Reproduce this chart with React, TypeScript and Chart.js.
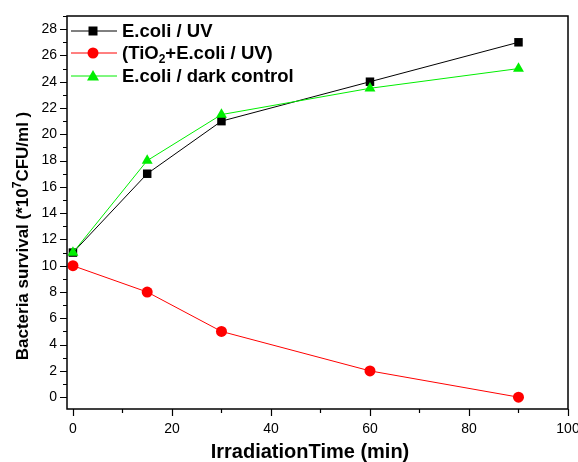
import React, { useEffect, useRef } from 'react';
import { Chart, registerables } from 'chart.js';
Chart.register(...registerables);

const times = [0, 15, 30, 60, 90];
const ecoliUV = [11, 17, 21, 24, 27];
const tio2UV = [10, 8, 5, 2, 0];
const darkControl = [11, 18, 21.5, 23.5, 25];
const xTickValues = [0, 10, 20, 30, 40, 50, 60, 70, 80, 90, 100];
const yTickValues = Array.from({ length: 30 }, (_, i) => i - 0);
const xTitle = 'IrradiationTime (min)';
const legendLabels = ['E.coli / UV', '(TiO|2|+E.coli / UV)', 'E.coli / dark control'];

const FONT = '"Liberation Sans", Arial, Helvetica, sans-serif';

type Seg = { t: string; dy: number; size: number };

function drawSegs(ctx: CanvasRenderingContext2D, segs: Seg[], x: number, y: number, align: 'left' | 'center') {
  const widths = segs.map((s) => {
    ctx.font = `bold ${s.size}px ${FONT}`;
    return ctx.measureText(s.t).width;
  });
  const total = widths.reduce((a, b) => a + b, 0);
  let cx = align === 'center' ? x - total / 2 : x;
  segs.forEach((s, i) => {
    ctx.font = `bold ${s.size}px ${FONT}`;
    ctx.fillText(s.t, cx, y + s.dy);
    cx += widths[i];
  });
}

const framePlugin = {
  id: 'frame',
  afterDraw(chart: any) {
    const { ctx, chartArea } = chart;
    const { left, right, top, bottom } = chartArea;
    const xs = chart.scales.x;
    const ys = chart.scales.y;
    ctx.save();
    ctx.strokeStyle = '#000';
    ctx.lineWidth = 1.5;
    ctx.strokeRect(left, top, right - left, bottom - top);
    ctx.lineWidth = 1.2;
    ctx.beginPath();
    xTickValues.forEach((v) => {
      const px = Math.round(xs.getPixelForValue(v)) + 0.5;
      const len = v % 20 === 0 ? 7 : 4;
      ctx.moveTo(px, bottom);
      ctx.lineTo(px, bottom + len);
    });
    yTickValues.forEach((v) => {
      const py = Math.round(ys.getPixelForValue(v)) + 0.5;
      const len = v % 2 === 0 ? 7 : 4;
      ctx.moveTo(left, py);
      ctx.lineTo(left - len, py);
    });
    ctx.stroke();

    // legend
    const colors = ['#000000', '#ff0000', '#00ee00'];
    const styles = ['rect', 'circle', 'triangle'];
    const rows = [31, 53, 76];
    rows.forEach((ry, i) => {
      ctx.strokeStyle = colors[i];
      ctx.fillStyle = colors[i];
      ctx.lineWidth = 1;
      ctx.beginPath();
      ctx.moveTo(left + 4, ry);
      ctx.lineTo(left + 50, ry);
      ctx.stroke();
      const mx = left + 26;
      ctx.beginPath();
      if (styles[i] === 'rect') {
        ctx.rect(mx - 4.5, ry - 4.5, 9, 9);
      } else if (styles[i] === 'circle') {
        ctx.arc(mx, ry, 5.5, 0, Math.PI * 2);
      } else {
        ctx.moveTo(mx, ry - 6);
        ctx.lineTo(mx + 6, ry + 4.5);
        ctx.lineTo(mx - 6, ry + 4.5);
        ctx.closePath();
      }
      ctx.fill();
      ctx.fillStyle = '#000';
      ctx.textBaseline = 'middle';
      ctx.textAlign = 'left';
      const parts = legendLabels[i].split('|');
      const segs: Seg[] = parts.map((p, k) => ({ t: p, dy: k === 1 ? 6 : 0, size: k === 1 ? 12 : 18.5 }));
      drawSegs(ctx, segs, left + 55, ry + 1, 'left');
    });

    // axis titles
    ctx.fillStyle = '#000';
    ctx.textBaseline = 'alphabetic';
    ctx.textAlign = 'left';
    drawSegs(ctx, [{ t: xTitle, dy: 0, size: 20 }], 310, 458, 'center');
    ctx.save();
    ctx.translate(28, 236);
    ctx.rotate(-Math.PI / 2);
    drawSegs(
      ctx,
      [
        { t: 'Bacteria survival (*10', dy: 0, size: 17 },
        { t: '7', dy: -7, size: 12 },
        { t: 'CFU/ml )', dy: 0, size: 17 },
      ],
      0,
      0,
      'center'
    );
    ctx.restore();
    ctx.restore();
  },
};

export default function App() {
  const ref = useRef<HTMLCanvasElement>(null);
  useEffect(() => {
    document.body.style.margin = '0';
    const chart = new Chart(ref.current!, {
      type: 'line',
      data: {
        datasets: [
          {
            label: legendLabels[0],
            data: times.map((t, i) => ({ x: t, y: ecoliUV[i] })),
            borderColor: '#000000',
            backgroundColor: '#000000',
            borderWidth: 1,
            pointStyle: 'rect',
            pointRadius: 6,
            pointBorderWidth: 0,
            order: 3,
          },
          {
            label: legendLabels[1].replace(/\|/g, ''),
            data: times.map((t, i) => ({ x: t, y: tio2UV[i] })),
            borderColor: '#ff0000',
            backgroundColor: '#ff0000',
            borderWidth: 1,
            pointStyle: 'circle',
            pointRadius: 5.5,
            pointBorderWidth: 0,
            order: 2,
          },
          {
            label: legendLabels[2],
            data: times.map((t, i) => ({ x: t, y: darkControl[i] })),
            borderColor: '#00ee00',
            backgroundColor: '#00ee00',
            borderWidth: 1,
            pointStyle: 'triangle',
            pointRadius: 6.3,
            pointBorderWidth: 0,
            order: 1,
          },
        ],
      },
      options: {
        animation: false,
        responsive: false,
        events: [],
        layout: { padding: { top: 16, right: 10, left: 0, bottom: 0 } },
        plugins: { legend: { display: false }, tooltip: { enabled: false } },
        scales: {
          x: {
            type: 'linear',
            min: -1.2,
            max: 100,
            afterBuildTicks: (s: any) => {
              s.ticks = xTickValues.map((v) => ({ value: v }));
            },
            afterFit: (s: any) => {
              s.height = 53;
              s.paddingLeft = 0;
              s.paddingRight = 0;
            },
            ticks: {
              autoSkip: false,
              maxRotation: 0,
              padding: 5,
              color: '#000',
              font: { family: FONT, size: 14 },
              callback: (v: any) => (Number(v) % 20 === 0 ? String(v) : ''),
            },
            grid: { drawOnChartArea: false, drawTicks: true, tickLength: 7, color: 'rgba(0,0,0,0)' },
            border: { display: false },
          },
          y: {
            type: 'linear',
            min: -0.9,
            max: 29,
            afterBuildTicks: (s: any) => {
              s.ticks = yTickValues.map((v) => ({ value: v }));
            },
            afterFit: (s: any) => {
              s.width = 67;
              s.paddingTop = 0;
              s.paddingBottom = 0;
            },
            ticks: {
              autoSkip: false,
              padding: 3,
              color: '#000',
              font: { family: FONT, size: 14 },
              callback: (v: any) => (Number(v) % 2 === 0 ? String(v) : ''),
            },
            grid: { drawOnChartArea: false, drawTicks: true, tickLength: 7, color: 'rgba(0,0,0,0)' },
            border: { display: false },
          },
        },
      },
      plugins: [framePlugin],
    } as any);
    return () => chart.destroy();
  }, []);
  return (
    <div style={{ width: 578, height: 462, background: '#fff' }}>
      <canvas ref={ref} width={578} height={462} style={{ display: 'block' }} />
    </div>
  );
}
